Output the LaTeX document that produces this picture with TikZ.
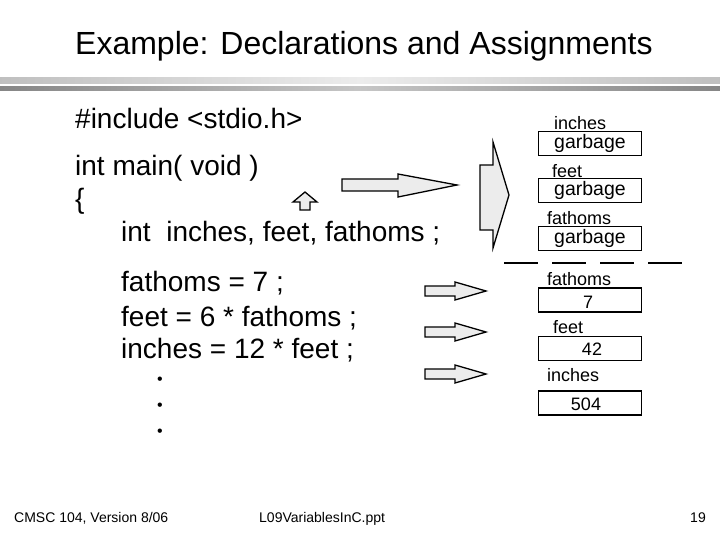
\documentclass[tikz,border=0pt]{standalone}
\usepackage{fontspec}
\setmainfont{Liberation Sans}

\begin{document}
\begin{tikzpicture}[x=1pt, y=-1pt,
	every node/.style={inner sep=0pt},
	slidetitle/.style={anchor=base west, font=\fontsize{32}{38}\selectfont},
	codeline/.style={anchor=base west, font=\fontsize{28}{34}\selectfont},
	varname/.style={anchor=west, font=\fontsize{18}{22}\selectfont},
	membox/.style={draw, line width=1.6pt, minimum width=103pt, minimum height=24pt, font=\fontsize{19.5}{23}\selectfont},
	value/.style={font=\fontsize{18}{22}\selectfont},
	footer/.style={font=\fontsize{14}{17}\selectfont},
	blockarrow/.style={draw, line width=1.3pt, fill=gray!15, line join=miter}]
	\useasboundingbox (0,0) rectangle (720,540);
	% title and rule
	\node[slidetitle] (title) at (75,55) {Example: Declarations and Assignments};
	\shade[left color=gray!50, right color=gray!50, middle color=gray!15] (0,78) rectangle (720,84);
	\shade[left color=gray!95, right color=gray!95, middle color=gray!45] (0,87) rectangle (720,91);
	% code
	\node[codeline] (incl) at (75,129) {\#include <stdio.h>};
	\node[codeline] (mainln) at (75,176) {int main( void )};
	\node[codeline] (brace) at (75,208) {\{};
	\node[codeline] (decl) at (121,241) {int\ \ inches, feet, fathoms ;};
	\node[codeline] (asgfathoms) at (121,291) {fathoms = 7 ;};
	\node[codeline] (asgfeet) at (121,326) {feet = 6 * fathoms ;};
	\node[codeline] (asginches) at (121,358) {inches = 12 * feet ;};
	\foreach \y [count=\i] in {381,407,433}
		\node[font=\fontsize{16}{19}\selectfont] (dot\i) at (160,\y) {•};
	% arrows
	\draw[blockarrow] (305,192) -- (317,202) -- (310,202) -- (310,210) -- (300,210) -- (300,202) -- (293,202) -- cycle;
	\draw[blockarrow] (342,179) -- (398,179) -- (398,174) -- (457,185) -- (398,197) -- (398,191) -- (342,191) -- cycle;
	\draw[blockarrow] (480,165) -- (493,165) -- (493,142) -- (509,195) -- (493,248) -- (493,230) -- (480,230) -- cycle;
	\foreach \y in {291,332,374}
		\draw[blockarrow] (425,\y-5) -- (455,\y-5) -- (455,\y-9) -- (486,\y) -- (455,\y+9) -- (455,\y+5) -- (425,\y+5) -- cycle;
	% memory before
	\node[varname] (lblinches) at (554,123) {inches};
	\node[membox] (boxinches) at (590,143.5) {garbage};
	\node[varname] (lblfeet) at (552,171) {feet};
	\node[membox] (boxfeet) at (590,190.5) {garbage};
	\node[varname] (lblfathoms) at (547,218) {fathoms};
	\node[membox] (boxfathoms) at (590,238.5) {garbage};
	\foreach \x in {504,552,600,648}
		\draw[line width=1.6pt] (\x,263) -- ++(34,0);
	% memory after
	\node[varname] (lblfathomsb) at (547,279) {fathoms};
	\node[membox] (boxfathomsb) at (590,300) {};
	\node[value] (valfathoms) at (588,302) {7};
	\node[varname] (lblfeetb) at (553,327) {feet};
	\node[membox] (boxfeetb) at (590,348.5) {};
	\node[value] (valfeet) at (592,349.5) {42};
	\node[varname] (lblinchesb) at (547,375) {inches};
	\node[membox] (boxinchesb) at (590,403) {};
	\node[value] (valinches) at (586,404.5) {504};
	% footer
	\node[footer, anchor=base west] (course) at (14,522) {CMSC 104, Version 8/06};
	\node[footer, anchor=base west] (file) at (259,522) {L09VariablesInC.ppt};
	\node[footer, anchor=base east] (page) at (706,522) {19};
\end{tikzpicture}
\end{document}
